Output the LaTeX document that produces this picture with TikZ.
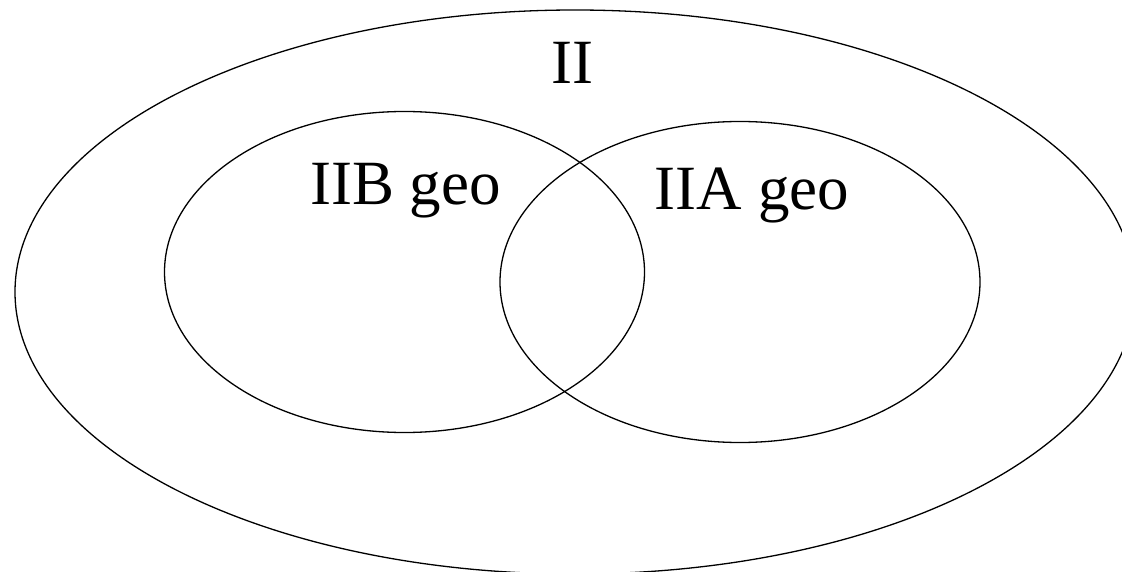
\documentclass[tikz,border=0pt]{standalone}
\usepackage{fontspec}
\setmainfont{Liberation Serif}
\begin{document}
\begin{tikzpicture}[x=1pt,y=-1pt,
  ring/.style={draw=black,line width=1.3pt},
  lbl/.style={anchor=base,inner sep=0pt,font=\fontsize{63}{70}\selectfont}]
\useasboundingbox (0,0) rectangle (1122,572);
\clip (0,0) rectangle (1122,572);
\draw[ring] (575,292) ellipse [x radius=560pt, y radius=282pt];
\draw[ring] (404.5,272) ellipse [x radius=240pt, y radius=160.5pt];
\draw[ring] (740,282) ellipse [x radius=240pt, y radius=160.5pt];
\node[lbl] (ii) at (572,83.3) {II};
\node[lbl] (iib) at (405.5,205) {IIB geo};
\node[lbl] (iia) at (752,209.8) {IIA geo};
\end{tikzpicture}
\end{document}
